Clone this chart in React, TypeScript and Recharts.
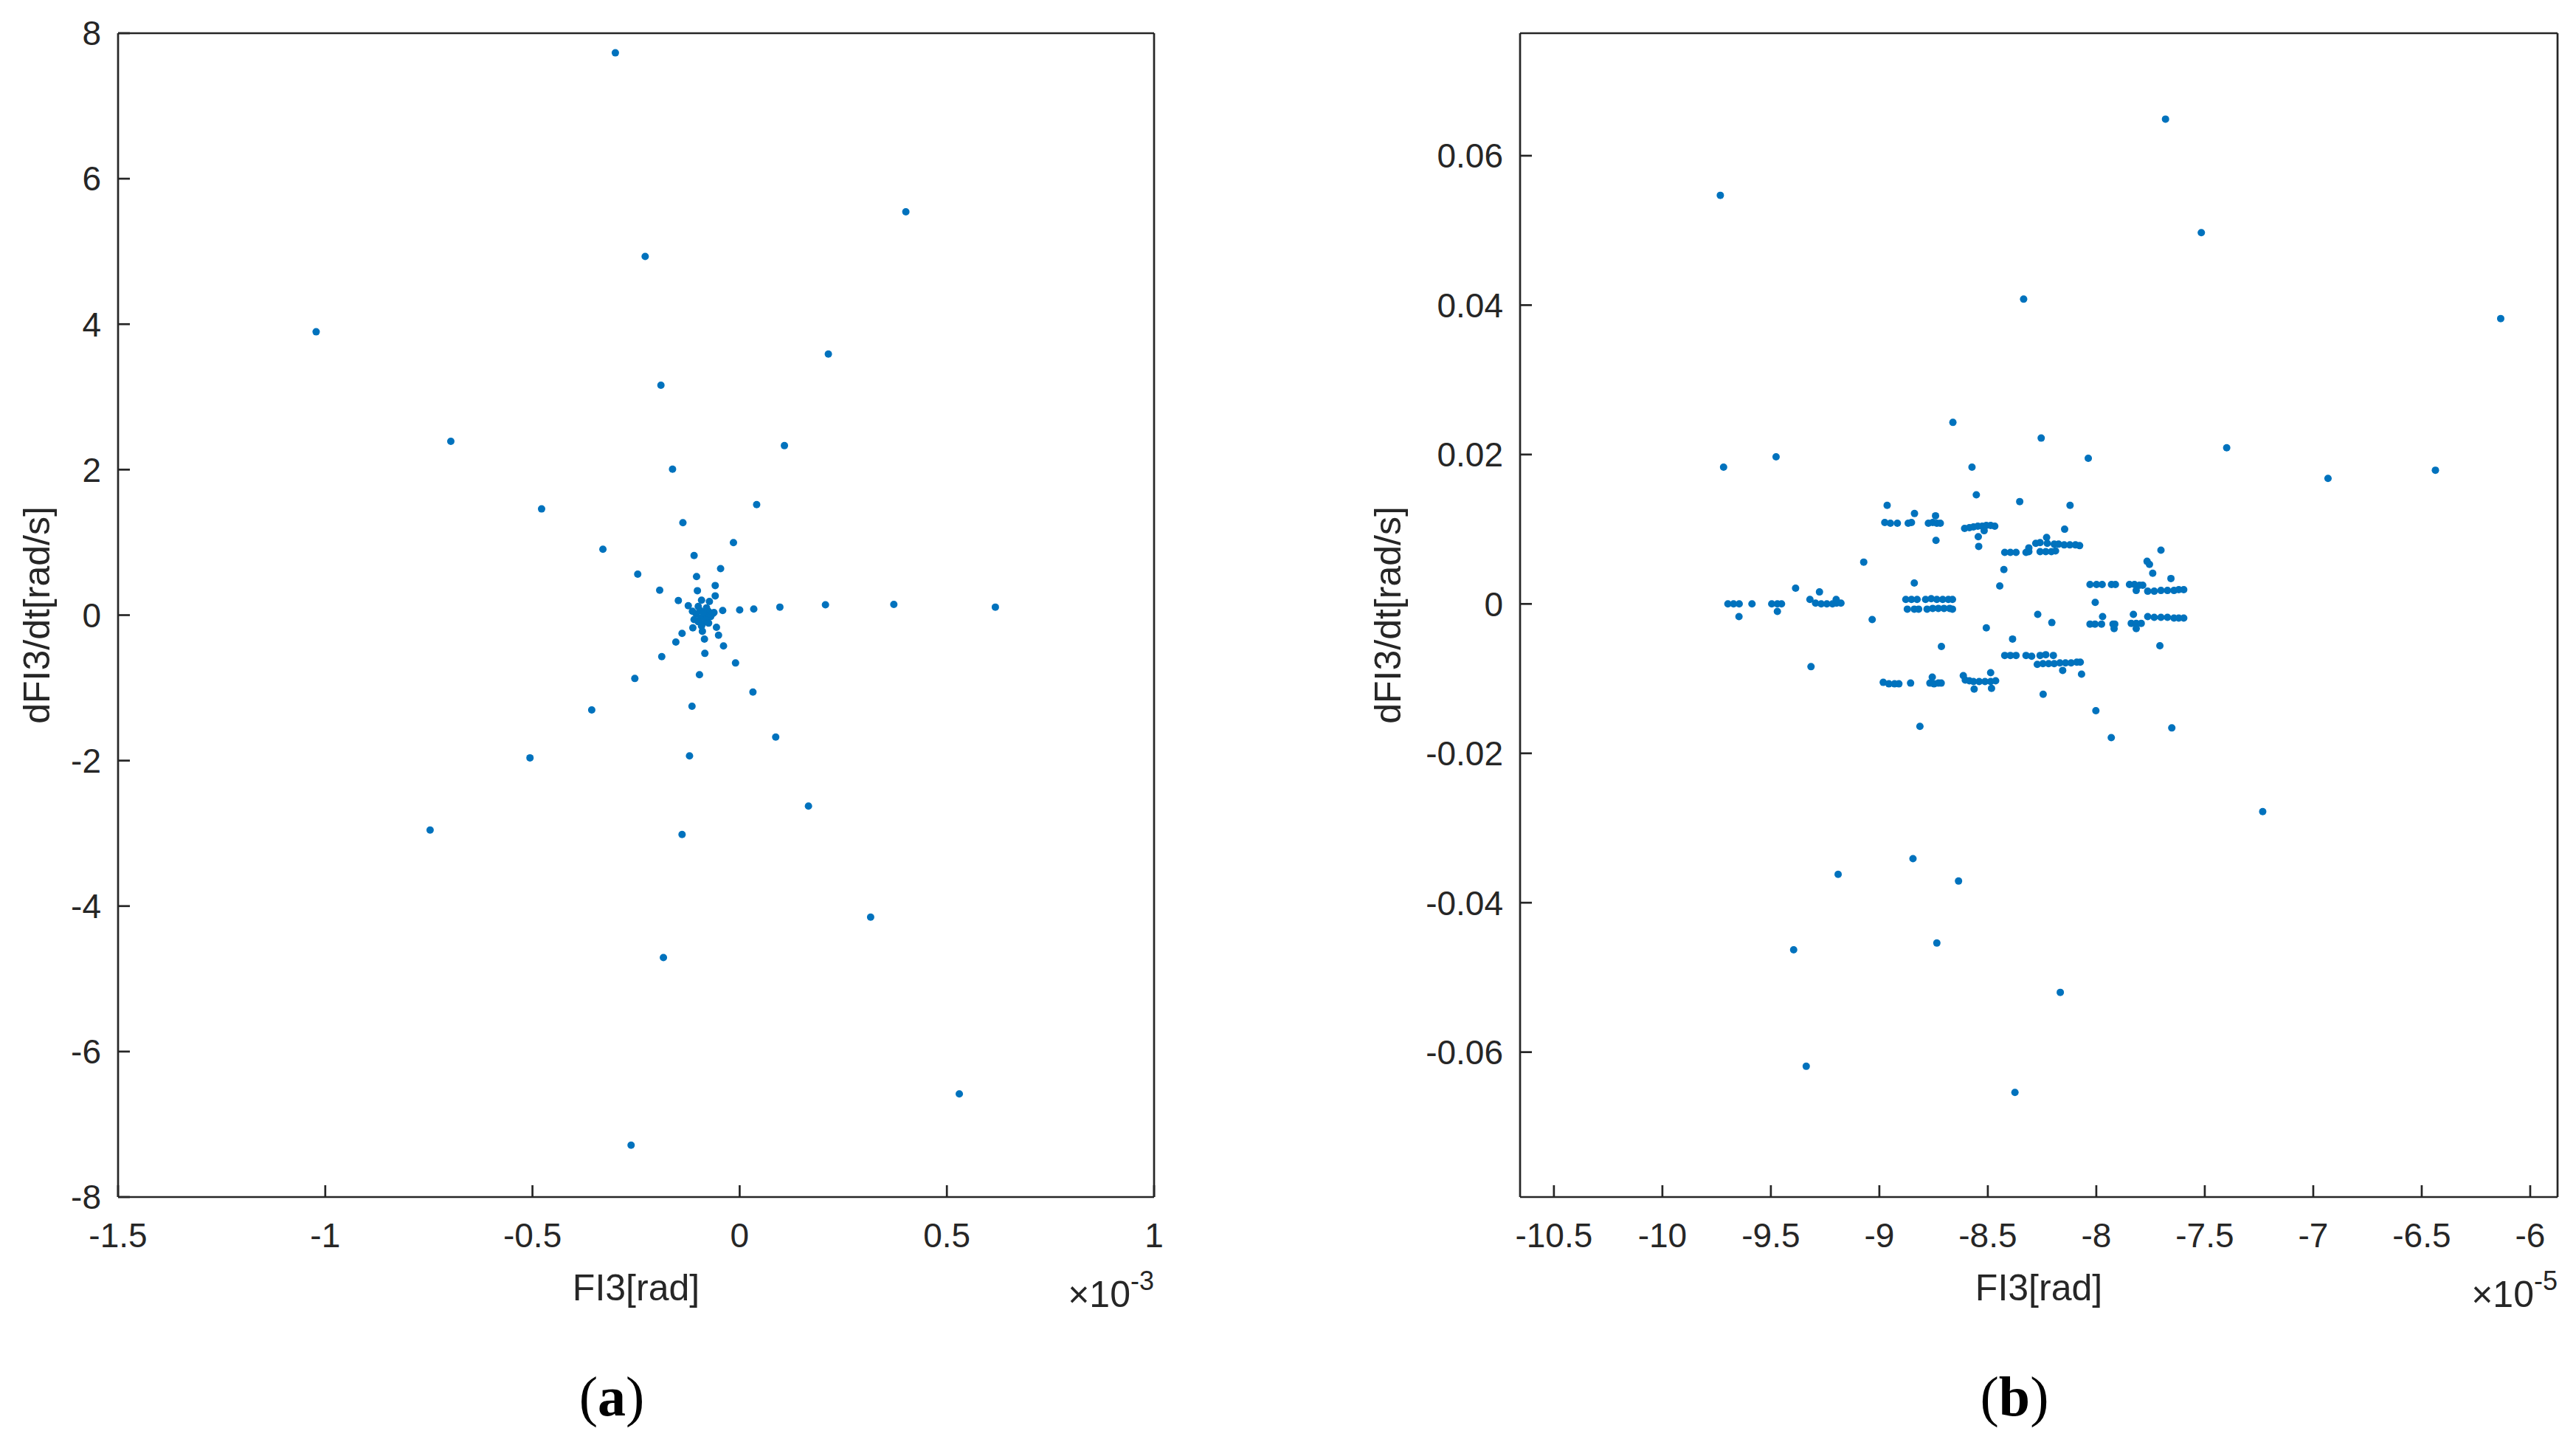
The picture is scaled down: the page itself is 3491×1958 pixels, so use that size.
/**
 * Phase portraits of FI3: (a) full run, (b) zoomed steady-state cloud.
 * Two Recharts ScatterCharts drawn in a MATLAB-like boxed style.
 */
import { ScatterChart, Scatter, XAxis, YAxis } from 'recharts'

const INK = '#262626'
const DOT = '#0072BD'

// (a) FI3 in units of 1e-3 rad, dFI3/dt in rad/s
const pointsA: [number, number][] = [
  [-0.3, 7.73], [0.401, 5.545], [-0.228, 4.93], [-1.022, 3.895], [0.214, 3.59],
  [-0.19, 3.16], [-0.697, 2.39], [0.108, 2.33], [-0.162, 2.006], [-0.478, 1.46],
  [0.041, 1.52], [-0.137, 1.27], [-0.33, 0.905], [-0.015, 0.996], [-0.11, 0.82],
  [-0.246, 0.563], [-0.046, 0.64], [-0.104, 0.53], [-0.193, 0.343], [-0.102, 0.336],
  [-0.059, 0.407], [-0.059, 0.265], [-0.148, 0.2], [-0.124, 0.129], [-0.073, 0.187],
  [-0.092, 0.205], [-0.114, 0.053], [-0.062, 0.036], [-0.041, 0.064], [0.0, 0.071],
  [0.034, 0.083], [0.097, 0.11], [0.207, 0.142], [0.372, 0.148], [0.617, 0.11],
  [-0.1, 0.12], [-0.08, 0.1], [-0.095, 0.06], [-0.075, 0.05], [-0.105, 0.02],
  [-0.085, 0.0], [-0.07, -0.02], [-0.095, -0.04], [-0.08, -0.07], [-0.1, -0.09],
  [-0.09, -0.12], [-0.075, -0.11], [-0.065, 0.02], [-0.11, -0.06], [-0.088, 0.03],
  [-0.092, -0.15], [-0.113, -0.175], [-0.09, -0.222], [-0.056, -0.167], [-0.051, -0.276],
  [-0.139, -0.252], [-0.154, -0.37], [-0.085, -0.33], [-0.039, -0.424], [-0.188, -0.57],
  [-0.084, -0.526], [-0.01, -0.658], [-0.253, -0.871], [-0.097, -0.82], [0.032, -1.057],
  [-0.115, -1.253], [-0.357, -1.304], [0.087, -1.676], [-0.506, -1.962], [-0.121, -1.935],
  [0.166, -2.626], [-0.747, -2.955], [-0.139, -3.016], [0.316, -4.153], [-0.184, -4.707],
  [0.53, -6.583], [-0.262, -7.288],
]

// (b) FI3 in units of 1e-5 rad, dFI3/dt in rad/s
const pointsB: [number, number][] = [
  // scattered outliers
  [-7.681, 0.0649], [-9.733, 0.0547], [-7.516, 0.0497], [-8.335, 0.0408], [-6.136, 0.0382],
  [-8.661, 0.0243], [-8.254, 0.0222], [-7.399, 0.0209], [-8.037, 0.0195], [-9.476, 0.0197],
  [-9.718, 0.0183], [-8.573, 0.0183], [-6.437, 0.0179], [-6.932, 0.0168],
  [-8.553, 0.0146], [-8.353, 0.0137], [-8.121, 0.0132], [-8.964, 0.0132], [-8.838, 0.0121],
  [-8.741, 0.0118],
  // upper bands
  [-8.975, 0.0109], [-8.949, 0.0108], [-8.917, 0.0108], [-8.867, 0.0108], [-8.852, 0.0109],
  [-8.774, 0.0108], [-8.754, 0.0109], [-8.735, 0.0108], [-8.719, 0.0108],
  [-8.739, 0.0085], [-8.544, 0.009], [-8.542, 0.0077],
  [-8.607, 0.0101], [-8.585, 0.0102], [-8.566, 0.0103], [-8.546, 0.0104], [-8.526, 0.0104],
  [-8.507, 0.0105], [-8.487, 0.0105], [-8.468, 0.0104], [-8.517, 0.0098],
  [-9.072, 0.0056],
  [-8.422, 0.0069], [-8.396, 0.0069], [-8.37, 0.0069], [-8.324, 0.0069], [-8.311, 0.007],
  [-8.259, 0.007], [-8.233, 0.007], [-8.207, 0.007], [-8.188, 0.0071],
  [-8.279, 0.0081], [-8.259, 0.0082], [-8.226, 0.0081], [-8.194, 0.008], [-8.174, 0.008],
  [-8.148, 0.0079], [-8.122, 0.0079], [-8.096, 0.0079], [-8.077, 0.0078],
  [-8.229, 0.0089], [-8.311, 0.0075], [-8.146, 0.01], [-8.426, 0.0046], [-8.445, 0.0024],
  [-8.839, 0.0028], [-9.386, 0.0021], [-9.276, 0.0016], [-9.32, 0.0006],
  // centre bands
  [-9.698, 0.0], [-9.672, 0.0], [-9.646, 0.0], [-9.587, 0.0], [-9.496, 0.0],
  [-9.47, 0.0], [-9.451, 0.0],
  [-9.294, 0.0001], [-9.268, 0.0], [-9.242, 0.0], [-9.216, 0.0], [-9.197, 0.0001],
  [-9.177, 0.0001], [-9.199, 0.0006],
  [-9.647, -0.0017], [-9.47, -0.001], [-9.033, -0.0021],
  [-8.878, 0.0006], [-8.852, 0.0006], [-8.826, 0.0006], [-8.787, 0.0006], [-8.761, 0.0007],
  [-8.735, 0.0006], [-8.708, 0.0006], [-8.682, 0.0006], [-8.663, 0.0006],
  [-8.871, -0.0007], [-8.839, -0.0007], [-8.819, -0.0007], [-8.78, -0.0007], [-8.754, -0.0006],
  [-8.728, -0.0006], [-8.702, -0.0006], [-8.676, -0.0006], [-8.663, -0.0007],
  [-8.27, -0.0014], [-8.205, -0.0025], [-8.507, -0.0032], [-8.386, -0.0047], [-8.714, -0.0057],
  [-9.315, -0.0084],
  // lower bands
  [-8.422, -0.0069], [-8.396, -0.0069], [-8.37, -0.0069], [-8.324, -0.0069], [-8.298, -0.007],
  [-8.259, -0.0069], [-8.233, -0.0068], [-8.198, -0.0069],
  [-8.272, -0.0081], [-8.246, -0.008], [-8.22, -0.008], [-8.194, -0.008], [-8.168, -0.0079],
  [-8.142, -0.0079], [-8.116, -0.0079], [-8.09, -0.0078], [-8.074, -0.0078],
  [-8.155, -0.0089], [-8.068, -0.0094], [-8.245, -0.0121], [-8.487, -0.0092], [-8.613, -0.0096],
  [-8.756, -0.0098],
  [-8.982, -0.0105], [-8.956, -0.0107], [-8.93, -0.0107], [-8.91, -0.0107], [-8.856, -0.0106],
  [-8.767, -0.0106], [-8.748, -0.0107], [-8.728, -0.0106], [-8.715, -0.0106],
  [-8.604, -0.0102], [-8.585, -0.0103], [-8.566, -0.0104], [-8.54, -0.0104], [-8.513, -0.0104],
  [-8.487, -0.0104], [-8.464, -0.0103], [-8.563, -0.0114], [-8.483, -0.0113],
  // right-hand bands
  [-8.029, 0.0026], [-7.999, 0.0026], [-7.973, 0.0026], [-7.93, 0.0026], [-7.912, 0.0026],
  [-7.847, 0.0026], [-7.824, 0.0026], [-7.801, 0.0025], [-7.786, 0.0025],
  [-7.763, 0.0017], [-7.733, 0.0017], [-7.702, 0.0018], [-7.672, 0.0018], [-7.642, 0.0018],
  [-7.62, 0.0019], [-7.597, 0.0019],
  [-7.702, 0.0072], [-7.766, 0.0057], [-7.755, 0.0053], [-7.74, 0.0041], [-7.656, 0.0034],
  [-7.816, 0.0018], [-8.005, 0.0002],
  [-8.029, -0.0027], [-8.006, -0.0027], [-7.976, -0.0027], [-7.923, -0.0027], [-7.915, -0.0027],
  [-7.839, -0.0026], [-7.816, -0.0026], [-7.793, -0.0026],
  [-7.763, -0.0017], [-7.733, -0.0018], [-7.702, -0.0018], [-7.672, -0.0018], [-7.642, -0.0019],
  [-7.62, -0.0019], [-7.597, -0.0019],
  [-7.971, -0.0017], [-7.829, -0.0014], [-7.918, -0.0033], [-7.816, -0.0033], [-7.707, -0.0056],
  // lower outliers
  [-8.002, -0.0143], [-7.652, -0.0166], [-7.931, -0.0179], [-8.813, -0.0164],
  [-7.233, -0.0278], [-8.845, -0.0341], [-9.19, -0.0362], [-8.635, -0.0371], [-9.395, -0.0463],
  [-8.735, -0.0454], [-8.166, -0.052], [-9.337, -0.0619], [-8.375, -0.0654],
]

const ticksAX = [-1.5, -1, -0.5, 0, 0.5, 1]
const ticksAY = [-8, -6, -4, -2, 0, 2, 4, 6, 8]
const ticksBX = [-10.5, -10, -9.5, -9, -8.5, -8, -7.5, -7, -6.5, -6]
const ticksBY = [-0.06, -0.04, -0.02, 0, 0.02, 0.04, 0.06]

const domainAX: [number, number] = [-1.5, 1]
const domainAY: [number, number] = [-8, 8]
const domainBX: [number, number] = [-10.656, -5.874]
const domainBY: [number, number] = [-0.0794, 0.0764]

const fmt = (v: number) => String(+v.toFixed(4))

const Dot = (props: any) => <circle cx={props.cx} cy={props.cy} r={5} fill={DOT} />

const xTitle = (exp: string) => (props: any) => {
  const { x, y, width } = props.viewBox
  return (
    <g>
      <text x={x + width / 2} y={y + 140} textAnchor="middle" fontSize={50} fill={INK}>
        FI3[rad]
      </text>
      <text x={x + width} y={y + 149} textAnchor="end" fontSize={50} fill={INK}>
        {'\u00d710'}
        <tspan dy={-23} fontSize={36}>{exp}</tspan>
      </text>
    </g>
  )
}

const yTitle = (dx: number) => (props: any) => {
  const { x, y, height } = props.viewBox
  const cx = x + dx
  const cy = y + height / 2
  return (
    <text x={cx} y={cy} transform={`rotate(-90 ${cx} ${cy})`} textAnchor="middle" fontSize={50} fill={INK}>
      dFI3/dt[rad/s]
    </text>
  )
}

interface PanelProps {
  points: [number, number][]
  xTicks: number[]
  yTicks: number[]
  xDomain: [number, number]
  yDomain: [number, number]
  exp: string
  width: number
  yAxisWidth: number
  rightMargin: number
  yTitleX: number
}

const axisLine = { stroke: INK, strokeWidth: 2.7 }
const tickStyle = { fill: INK, fontSize: 46 }

function Panel({ points, xTicks, yTicks, xDomain, yDomain, exp, width, yAxisWidth, rightMargin, yTitleX }: PanelProps) {
  const data = points.map(([x, y]) => ({ x, y }))
  return (
    <ScatterChart width={width} height={1850} margin={{ top: 44, right: rightMargin, bottom: 28, left: 0 }}>
      <XAxis
        xAxisId="b"
        dataKey="x"
        type="number"
        domain={xDomain}
        ticks={xTicks}
        interval={0}
        allowDataOverflow
        tickFormatter={fmt}
        height={200}
        stroke={INK}
        axisLine={axisLine}
        tickLine={axisLine}
        tickSize={-16}
        tickMargin={51}
        tick={tickStyle}
        label={{ content: xTitle(exp) }}
      />
      <XAxis
        xAxisId="t"
        orientation="top"
        dataKey="x"
        type="number"
        domain={xDomain}
        ticks={xTicks}
        interval={0}
        allowDataOverflow
        height={1}
        stroke={INK}
        axisLine={axisLine}
        tickLine={axisLine}
        tickSize={-16}
        tick={false}
      />
      <YAxis
        yAxisId="l"
        dataKey="y"
        type="number"
        domain={yDomain}
        ticks={yTicks}
        interval={0}
        allowDataOverflow
        tickFormatter={fmt}
        width={yAxisWidth}
        stroke={INK}
        axisLine={axisLine}
        tickLine={axisLine}
        tickSize={-16}
        tickMargin={39}
        tick={tickStyle}
        label={{ content: yTitle(yTitleX) }}
      />
      <YAxis
        yAxisId="r"
        orientation="right"
        dataKey="y"
        type="number"
        domain={yDomain}
        ticks={yTicks}
        interval={0}
        allowDataOverflow
        width={20}
        stroke={INK}
        axisLine={axisLine}
        tickLine={axisLine}
        tickSize={-16}
        tick={false}
      />
      <Scatter data={data} xAxisId="b" yAxisId="l" shape={Dot} isAnimationActive={false} />
    </ScatterChart>
  )
}

const captionStyle = {
  position: 'absolute' as const,
  top: 1854,
  width: 200,
  textAlign: 'center' as const,
  fontFamily: '"Liberation Serif", serif',
  fontSize: 76,
  lineHeight: '76px',
  color: '#000',
}

export default function App() {
  return (
    <div
      style={{
        position: 'absolute',
        left: 0,
        top: 0,
        width: 3491,
        height: 1958,
        background: '#fff',
        overflow: 'hidden',
        fontFamily: '"Liberation Sans", Arial, sans-serif',
      }}
    >
      <div style={{ position: 'absolute', left: 0, top: 0 }}>
        <Panel
          points={pointsA}
          xTicks={ticksAX}
          yTicks={ticksAY}
          xDomain={domainAX}
          yDomain={domainAY}
          exp="-3"
          width={1600}
          yAxisWidth={160}
          rightMargin={16}
          yTitleX={67}
        />
      </div>
      <div style={{ position: 'absolute', left: 1750, top: 0 }}>
        <Panel
          points={pointsB}
          xTicks={ticksBX}
          yTicks={ticksBY}
          xDomain={domainBX}
          yDomain={domainBY}
          exp="-5"
          width={1741}
          yAxisWidth={310}
          rightMargin={5}
          yTitleX={148}
        />
      </div>
      <div style={{ ...captionStyle, left: 729 }}>
        (<b>a</b>)
      </div>
      <div style={{ ...captionStyle, left: 2630 }}>
        (<b>b</b>)
      </div>
    </div>
  )
}
